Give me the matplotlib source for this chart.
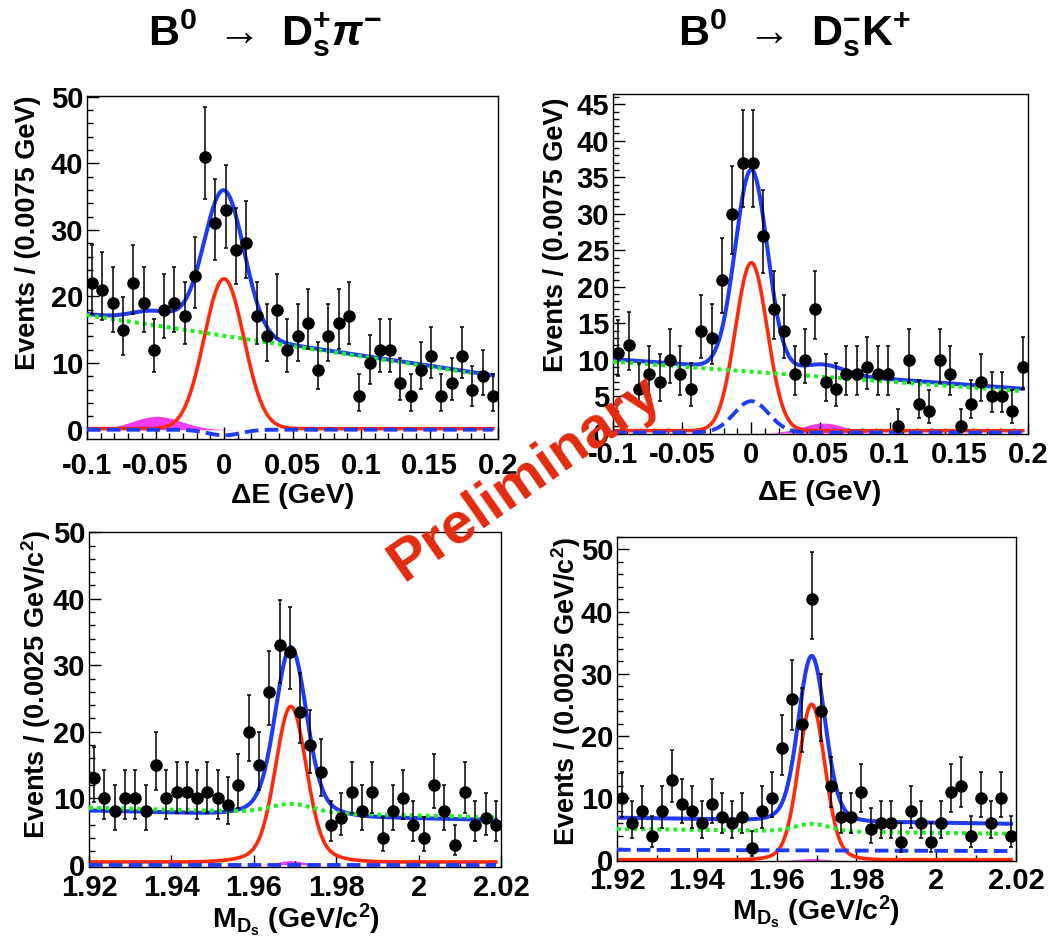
import numpy as np
import matplotlib
matplotlib.use("Agg")
import matplotlib.pyplot as plt
from matplotlib.ticker import MultipleLocator, FuncFormatter

plt.rcParams['font.family'] = ['Liberation Sans', 'DejaVu Sans']
plt.rcParams['font.weight'] = 'bold'
plt.rcParams['mathtext.fontset'] = 'custom'
plt.rcParams['mathtext.rm'] = 'Liberation Sans:bold'
plt.rcParams['mathtext.bf'] = 'Liberation Sans:bold'
plt.rcParams['mathtext.it'] = 'Liberation Sans:italic'
plt.rcParams['mathtext.sf'] = 'Liberation Sans:bold'
plt.rcParams['mathtext.default'] = 'rm'

# ---------------- data: events per bin ----------------
de_range = [-0.1, 0.2]          # Delta E histogram range (GeV), 40 bins of 0.0075
mds_range = [1.92, 2.02]        # M_Ds histogram range (GeV/c^2), 40 bins of 0.0025
n_bins = 40

de_dspi_counts = [22, 21, 19, 15, 22, 19, 12, 18, 19, 17, 23, 41, 31, 33, 27, 28, 17, 14, 18, 12,
                  14, 16, 9, 14, 16, 17, 5, 10, 12, 12, 7, 5, 9, 11, 5, 7, 11, 6, 8, 5]
de_dsk_counts = [11, 12, 6, 8, 7, 10, 8, 6, 14, 13, 21, 30, 37, 37, 27, 17, 14, 8, 10, 17,
                 7, 6, 8, 8, 9, 8, 8, 1, 10, 4, 3, 10, 8, 1, 4, 7, 5, 5, 3, 9]
mds_dspi_counts = [13, 10, 8, 10, 10, 8, 15, 10, 11, 11, 10, 11, 10, 9, 12, 20, 15, 26, 33, 32,
                   23, 18, 14, 6, 7, 11, 8, 11, 4, 8, 10, 6, 4, 12, 8, 3, 11, 6, 7, 6]
mds_dsk_counts = [10, 6, 8, 4, 8, 13, 9, 8, 6, 9, 7, 6, 7, 2, 8, 10, 18, 26, 22, 42,
                  24, 12, 7, 7, 11, 5, 6, 6, 3, 8, 6, 3, 6, 11, 12, 4, 10, 6, 10, 4]

# ---------------- fit-curve parameters ----------------
# background line: level at left and right end of the range
# gaussians: [amplitude, mean, sigma]
p1_bkg_ends = [17.2, 7.9];  p1_bkg_bump = [0.0, 0.0, 0.01]
p1_sig = [[22.5, 0.0, 0.0145]];  p1_sig_base = 0.15
p1_dash_ends = [0.0, 0.0];  p1_dash = [-0.85, 0.0, 0.012]
p1_peak = [2.0, -0.049, 0.018];  p1_tot_offset = 0.0

p2_bkg_ends = [9.75, 5.65];  p2_bkg_bump = [0.0, 0.0, 0.01]
p2_sig = [[23.0, 0.0, 0.0115]];  p2_sig_base = 0.3
p2_dash_ends = [0.05, 0.05];  p2_dash = [4.3, 0.0, 0.0125]
p2_peak = [1.35, 0.052, 0.015];  p2_tot_offset = 0.0

p3_bkg_ends = [8.55, 7.1];  p3_bkg_bump = [1.3, 1.9692, 0.005]
p3_sig = [[21.2, 1.969, 0.0036], [2.2, 1.969, 0.0078]];  p3_sig_base = 0.4
p3_dash_ends = [-0.1, -0.1];  p3_dash = [0.0, 1.969, 0.003]
p3_peak = [0.6, 1.969, 0.003];  p3_tot_offset = -0.7

p4_bkg_ends = [5.07, 4.27];  p4_bkg_bump = [1.2, 1.9689, 0.0042]
p4_sig = [[22.8, 1.9688, 0.0032], [2.2, 1.9688, 0.006]];  p4_sig_base = 0.1
p4_dash_ends = [1.7, 1.5];  p4_dash = [0.0, 1.969, 0.003]
p4_peak = [0.3, 1.9688, 0.003];  p4_tot_offset = 0.0

titles = [r"$\mathrm{B}^{0}\ \rightarrow\ \mathrm{D}_{s}^{+}\mathit{\pi}^{-}$",
          r"$\mathrm{B}^{0}\ \rightarrow\ \mathrm{D}_{s}^{-}\mathrm{K}^{+}$"]

BLUE = '#1f3cf5'
RED = '#ff2a0a'
GREEN = '#22ee22'
MAGENTA = '#f23cf0'

W, H = 1060, 939
fig = plt.figure(figsize=(W / 100, H / 100), dpi=100)


def gauss(x, p):
    a, m, s = p
    return a * np.exp(-0.5 * ((x - m) / s) ** 2)


def line(x, ends, rng):
    return ends[0] + (ends[1] - ends[0]) * (x - rng[0]) / (rng[1] - rng[0])


def poisson_err(n):
    # approximate 68% Poisson (Garwood/Gehrels) interval half-widths
    n = np.asarray(n, float)
    up = np.sqrt(n + 0.75) + 1.0
    nn = np.maximum(n, 1)
    lo = np.where(n > 0, n - n * (1 - 1 / (9 * nn) - 1 / (3 * np.sqrt(nn))) ** 3, 0)
    return lo, up


def axes_px(l, r, t, b):
    return fig.add_axes([l / W, 1 - b / H, (r - l) / W, (b - t) / H])


def fmt(v, p):
    return '%g' % round(v, 4)


panels = [
    dict(box=(87, 498, 96, 439), rng=de_range, ylim=(-1.4, 50.1), counts=de_dspi_counts,
         bkg=p1_bkg_ends, bump=p1_bkg_bump, sig=p1_sig, base=p1_sig_base, dash_e=p1_dash_ends,
         dash=p1_dash, peak=p1_peak, off=p1_tot_offset, xmaj=0.05, xmin=0.01, ymaj=10, ymin=2, xpad=9.5),
    dict(box=(613, 1028, 94, 434), rng=de_range, ylim=(-0.15, 46.4), counts=de_dsk_counts,
         bkg=p2_bkg_ends, bump=p2_bkg_bump, sig=p2_sig, base=p2_sig_base, dash_e=p2_dash_ends,
         dash=p2_dash, peak=p2_peak, off=p2_tot_offset, xmaj=0.05, xmin=0.01, ymaj=5, ymin=1, xpad=5.0),
    dict(box=(89, 501, 532, 867), rng=mds_range, ylim=(-0.36, 50.05), counts=mds_dspi_counts,
         bkg=p3_bkg_ends, bump=p3_bkg_bump, sig=p3_sig, base=p3_sig_base, dash_e=p3_dash_ends,
         dash=p3_dash, peak=p3_peak, off=p3_tot_offset, xmaj=0.02, xmin=0.01, ymaj=10, ymin=2, xpad=5.0),
    dict(box=(617, 1016, 537, 861), rng=mds_range, ylim=(-0.1, 52.0), counts=mds_dsk_counts,
         bkg=p4_bkg_ends, bump=p4_bkg_bump, sig=p4_sig, base=p4_sig_base, dash_e=p4_dash_ends,
         dash=p4_dash, peak=p4_peak, off=p4_tot_offset, xmaj=0.02, xmin=0.01, ymaj=10, ymin=2, xpad=4.5),
]

for P in panels:
    ax = axes_px(*P['box'])
    lo_x, hi_x = P['rng']
    width = (hi_x - lo_x) / n_bins
    centers = lo_x + width * (np.arange(n_bins) + 0.5)
    xc = np.linspace(lo_x, centers[-1], 600)

    bkg = line(xc, P['bkg'], P['rng']) + gauss(xc, P['bump'])
    sig = P['base'] + sum(gauss(xc, s) for s in P['sig'])
    dash = line(xc, P['dash_e'], P['rng']) + gauss(xc, P['dash'])
    peak = gauss(xc, P['peak'])
    total = bkg + sig + dash + peak + P['off']

    ax.fill_between(xc, 0, peak, color=MAGENTA, lw=0, zorder=1)
    ax.plot(xc, sig, color=RED, lw=2.6, zorder=2)
    ax.plot(xc, dash, color=BLUE, lw=2.8, dashes=(3.5, 1.6), zorder=3)
    ax.plot(xc, total, color=BLUE, lw=2.9, zorder=4)
    ax.plot(xc, bkg, color=GREEN, lw=2.9, dashes=(1, 1), dash_capstyle='butt', zorder=5)

    n = np.array(P['counts'])
    lo, up = poisson_err(n)
    ax.errorbar(centers, n, yerr=[lo, up], fmt='o', ms=8, color='black', mfc='black', mec='black',
                elinewidth=1.1, capsize=1.5, capthick=1.1, zorder=6)

    ax.set_xlim(lo_x, hi_x)
    ax.set_ylim(*P['ylim'])
    ax.xaxis.set_major_locator(MultipleLocator(P['xmaj']))
    ax.xaxis.set_minor_locator(MultipleLocator(P['xmin']))
    ax.yaxis.set_major_locator(MultipleLocator(P['ymaj']))
    ax.yaxis.set_minor_locator(MultipleLocator(P['ymin']))
    ax.xaxis.set_major_formatter(FuncFormatter(fmt))
    ax.yaxis.set_major_formatter(FuncFormatter(fmt))
    ax.tick_params(which='both', direction='in', top=False, right=False, width=1.0)
    ax.tick_params(which='major', length=8.8, labelsize=21)
    ax.tick_params(which='minor', length=4.4)
    ax.tick_params(axis='x', pad=P['xpad'])
    ax.tick_params(axis='y', pad=2.7)
    for lab in ax.get_xticklabels() + ax.get_yticklabels():
        lab.set_fontweight('bold')
    for sp in ax.spines.values():
        sp.set_linewidth(1.0)


def ftext(x, y, s, **kw):
    fig.text(x / W, 1 - y / H, s, **kw)


# titles
ftext(265, 33, titles[0], ha='center', va='center', fontsize=31, fontweight='bold')
ftext(795, 33, titles[1], ha='center', va='center', fontsize=31, fontweight='bold')

# axis titles
ftext(28, 95, "Events / (0.0075 GeV)", rotation=90, ha='center', va='top', fontsize=19.5, fontweight='bold')
ftext(556, 97, "Events / (0.0075 GeV)", rotation=90, ha='center', va='top', fontsize=19.5, fontweight='bold')
ftext(36, 530, r"Events / (0.0025 GeV/c$^{2}$)", rotation=90, ha='center', va='top', fontsize=19.5, fontweight='bold')
ftext(566, 537, r"Events / (0.0025 GeV/c$^{2}$)", rotation=90, ha='center', va='top', fontsize=19.5, fontweight='bold')

ftext(293, 503, "ΔE (GeV)", ha='center', va='baseline', fontsize=20.5, fontweight='bold')
ftext(820, 500, "ΔE (GeV)", ha='center', va='baseline', fontsize=20.5, fontweight='bold')
ftext(296, 928, r"M$_{\mathrm{D}_{s}}$ (GeV/c$^{2}$)", ha='center', va='baseline', fontsize=20.5, fontweight='bold')
ftext(816, 920, r"M$_{\mathrm{D}_{s}}$ (GeV/c$^{2}$)", ha='center', va='baseline', fontsize=20.5, fontweight='bold')

# watermark
ftext(525, 479, "Preliminary", rotation=35, ha='center', va='center', rotation_mode='anchor',
      fontsize=42, fontweight='bold', color='#e32b0e', zorder=20)

fig.savefig('out.png', dpi=100)
